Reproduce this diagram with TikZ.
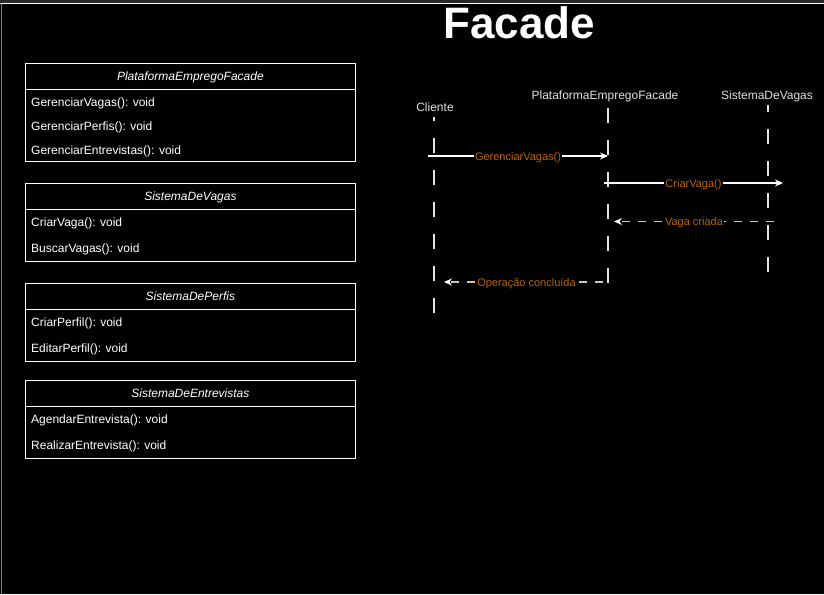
\documentclass[tikz,border=0pt]{standalone}
\usepackage{fontspec}
\setmainfont{Liberation Sans}
\usetikzlibrary{arrows.meta}
\definecolor{lbl}{RGB}{185,100,0}
\definecolor{lifec}{RGB}{225,225,225}
\definecolor{retc}{RGB}{200,200,200}
\definecolor{strip}{RGB}{40,40,40}
\begin{document}
\begin{tikzpicture}[x=1pt,y=-1pt,
  hdr/.style={draw=white, line width=0.8pt, minimum width=330pt, minimum height=26pt, inner sep=0pt, text height=9pt, text depth=0pt, anchor=north west, font=\fontsize{12}{14}\selectfont\itshape, text=white},
  body/.style={draw=white, line width=0.8pt, minimum width=330pt, anchor=north west, inner sep=0pt},
  item/.style={anchor=west, text=white, font=\fontsize{12}{14}\selectfont, inner sep=0pt, yshift=-1pt},
  actor/.style={text=lifec, font=\fontsize{12}{14}\selectfont, inner sep=1pt},
  life/.style={draw=lifec, line width=2pt, dash pattern=on 15pt off 17pt},
  msg/.style={draw=white, line width=1.2pt, -{Stealth[length=8pt,width=7pt]}},
  ret/.style={draw=retc, line width=1.2pt, dash pattern=on 8pt off 8pt, -{Stealth[length=8pt,width=7pt,color=white]}},
  mlabel/.style={fill=black, text=lbl, font=\fontsize{11}{13}\selectfont, inner sep=1pt, yshift=-1.5pt}
]
\useasboundingbox (0,0) rectangle (824,594);
\fill[black] (0,0) rectangle (824,594);
\fill[strip] (0,0) rectangle (824,2.6);
\draw[white, line width=1.5pt] (0,3.5) -- (824,3.5);
\draw[gray, line width=1pt] (1,3.5) -- (1,594);

% title
\node[anchor=base, text=white, inner sep=0pt, font=\fontsize{44}{52}\selectfont\bfseries] (title) at (519,39) {Facade};

% class boxes
\node[hdr] (h1) at (25,63) {PlataformaEmpregoFacade};
\node[body, minimum height=72pt] (b1) at (25,89) {};
\node[item] (i11) at (31,102) {GerenciarVagas(): void};
\node[item] (i12) at (31,126) {GerenciarPerfis(): void};
\node[item] (i13) at (31,150) {GerenciarEntrevistas(): void};

\node[hdr] (h2) at (25,183) {SistemaDeVagas};
\node[body, minimum height=52pt] (b2) at (25,209) {};
\node[item] (i21) at (31,222) {CriarVaga(): void};
\node[item] (i22) at (31,248) {BuscarVagas(): void};

\node[hdr] (h3) at (25,283) {SistemaDePerfis};
\node[body, minimum height=52pt] (b3) at (25,309) {};
\node[item] (i31) at (31,322) {CriarPerfil(): void};
\node[item] (i32) at (31,348) {EditarPerfil(): void};

\node[hdr] (h4) at (25,380) {SistemaDeEntrevistas};
\node[body, minimum height=52pt] (b4) at (25,406) {};
\node[item] (i41) at (31,419) {AgendarEntrevista(): void};
\node[item] (i42) at (31,445) {RealizarEntrevista(): void};

% actors
\node[actor] (cl) at (435,107) {Cliente};
\node[actor] (pf) at (605,96) {PlataformaEmpregoFacade};
\node[actor] (sv) at (767,96) {SistemaDeVagas};

% lifelines
\coordinate (clt) at (434,117);
\coordinate (clb) at (434,313);
\coordinate (pft) at (608,108);
\coordinate (pfb) at (608,283);
\coordinate (svt) at (768,105);
\coordinate (svb) at (768,273);
\draw[life, dash phase=11pt] (clt) -- (clb);
\draw[life] (pft) -- (pfb);
\draw[life, dash phase=8pt] (svt) -- (svb);

% messages
\coordinate (m1s) at (428,156);
\coordinate (m1e) at (608,156);
\coordinate (m2s) at (604,183);
\coordinate (m2e) at (783,183);
\coordinate (m3s) at (774,221.5);
\coordinate (m3e) at (614,221.5);
\coordinate (m4s) at (603,282);
\coordinate (m4e) at (444,282);
\draw[msg] (m1s) -- node[mlabel] (l1) {GerenciarVagas()} (m1e);
\draw[msg] (m2s) -- node[mlabel] (l2) {CriarVaga()} (m2e);
\draw[ret] (m3s) -- node[mlabel] (l3) {Vaga criada} (m3e);
\draw[ret] (m4s) -- node[mlabel, xshift=3pt] (l4) {Operação concluída} (m4e);
\end{tikzpicture}
\end{document}
